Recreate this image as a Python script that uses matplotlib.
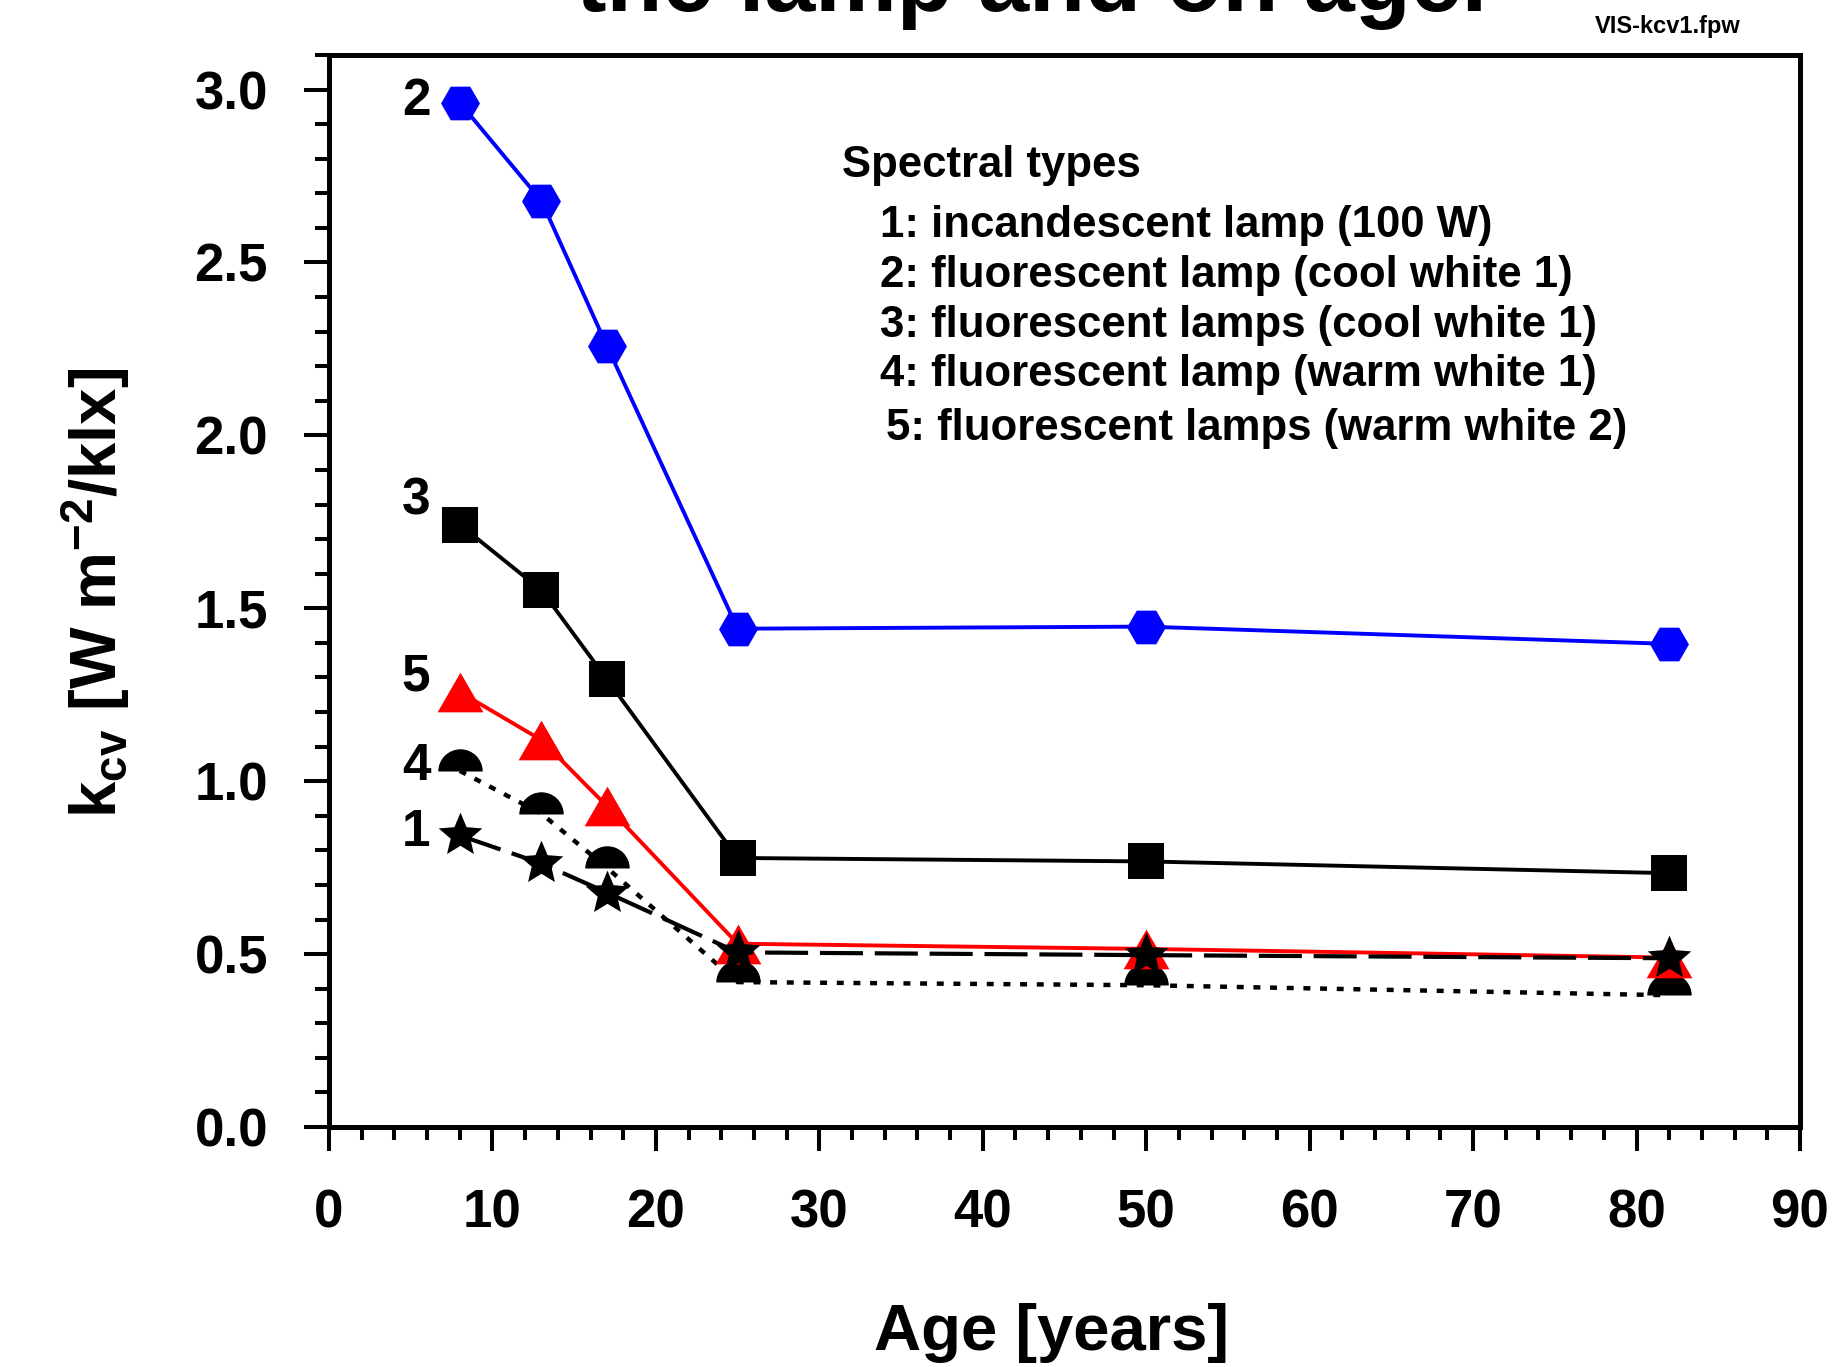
import matplotlib
matplotlib.use("Agg")
import numpy as np
import matplotlib.pyplot as plt
from matplotlib.ticker import MultipleLocator, FormatStrFormatter

plt.rcParams['font.family'] = ['Liberation Sans', 'DejaVu Sans']
plt.rcParams['font.weight'] = 'bold'
plt.rcParams['mathtext.default'] = 'regular'
plt.rcParams['lines.scale_dashes'] = False

# data
age = [8, 13, 17, 25, 50, 82]
k_type1 = [0.843, 0.762, 0.678, 0.505, 0.497, 0.488]   # incandescent, stars
k_type2 = [2.962, 2.678, 2.259, 1.441, 1.447, 1.397]   # cool white 1, blue hexagons
k_type3 = [1.742, 1.552, 1.295, 0.778, 0.768, 0.734]   # cool white 1 (lamps), squares
k_type4 = [1.03, 0.906, 0.75, 0.419, 0.41, 0.381]      # warm white 1, half circles
k_type5 = [1.258, 1.119, 0.928, 0.53, 0.515, 0.49]     # warm white 2, red triangles

curve_labels = ['2', '3', '5', '4', '1']
curve_label_y = [2.965, 1.81, 1.302, 1.042, 0.852]

legend_title = 'Spectral types'
legend_lines = [
    '1: incandescent lamp (100 W)',
    '2: fluorescent lamp (cool white 1)',
    '3: fluorescent lamps (cool white 1)',
    '4: fluorescent lamp (warm white 1)',
    '5: fluorescent lamps (warm white 2)',
]

W, H = 1833, 1367
fig = plt.figure(figsize=(W / 100, H / 100), dpi=100)
ax = fig.add_axes([329 / W, 1 - 1127 / H, (1800 - 329) / W, (1127 - 55) / H])

# marker shapes
tri = [(-1, -0.866), (1, -0.866), (0, 0.866)]
ang = np.pi / 2 + np.arange(10) * np.pi / 5
rad = np.where(np.arange(10) % 2 == 0, 1.0, 0.45)
star = list(zip(rad * np.cos(ang), rad * np.sin(ang)))

ax.plot(age, k_type2, color='#0000ff', lw=2.8, marker='H', ms=28, mew=0, zorder=3)
ax.plot(age, k_type3, color='black', lw=2.8, marker='s', ms=26, mew=0, zorder=3)
ax.plot(age, k_type4, color='black', lw=3.2, ls=(0, (5, 7)), marker='o', ms=32,
        fillstyle='top', markerfacecolor='black', markerfacecoloralt='none', mew=0, zorder=4)
ax.plot(age, k_type5, color='#ff0000', lw=2.8, marker=tri, ms=33, mew=0, zorder=5)
ax.plot(age, k_type1, color='black', lw=3.0, ls=(0, (31, 8.5)), marker=star, ms=33, mew=0, zorder=6)

for lab, yy in zip(curve_labels, curve_label_y):
    ax.text(6.2, yy, lab, fontsize=37, fontweight='bold', ha='right', va='center')

ax.set_xlim(0, 90)
ax.set_ylim(0, 3.1)
ax.xaxis.set_major_locator(MultipleLocator(10))
ax.xaxis.set_minor_locator(MultipleLocator(2))
ax.yaxis.set_major_locator(MultipleLocator(0.5))
ax.yaxis.set_minor_locator(MultipleLocator(0.1))
ax.yaxis.set_major_formatter(FormatStrFormatter('%.1f'))

for s in ax.spines.values():
    s.set_linewidth(3.6)
ax.tick_params(which='both', direction='out', width=2.9, top=False, right=False)
ax.tick_params(axis='y', which='major', length=18, pad=26, labelsize=38)
ax.tick_params(axis='y', which='minor', length=10)
ax.tick_params(axis='x', which='major', length=17, pad=27, labelsize=38)
ax.tick_params(axis='x', which='minor', length=9.5)

ax.set_xlabel('Age [years]', fontsize=47, fontweight='bold', va='baseline')
ax.xaxis.set_label_coords(0.4915, -0.208)
ax.set_ylabel(r'k$_{cv}$ [W m$^{-2}$/klx]', fontsize=47, fontweight='bold', va='center')
ax.yaxis.set_label_coords(-0.159, 0.498)

fig.text(1031 / W, 1 - 11 / H, 'the lamp and on age.', fontsize=66, fontweight='bold',
         ha='center', va='baseline')
fig.text(1668 / W, 1 - 26 / H, 'VIS-kcv1.fpw', fontsize=17, fontweight='bold',
         family=['Liberation Sans Narrow', 'Liberation Sans'], ha='center', va='center')

fig.text(842 / W, 1 - 165 / H, legend_title, fontsize=31.5, fontweight='bold', va='center')
legend_x = [880, 880, 880, 880, 886]
legend_y = [225.6, 276, 326, 375, 429]
for txt, lx, ly in zip(legend_lines, legend_x, legend_y):
    fig.text(lx / W, 1 - ly / H, txt, fontsize=31.5, fontweight='bold', va='center')

fig.savefig('out.png', dpi=100)
